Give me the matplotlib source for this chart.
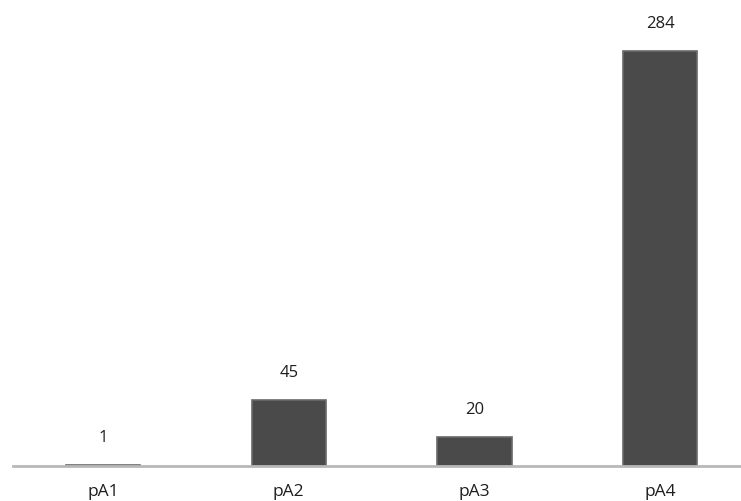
"""
Bar chart of counts per pA group
"""

import matplotlib.pyplot as plt

categories = ["pA1", "pA2", "pA3", "pA4"]
counts = [1, 45, 20, 284]

fig = plt.figure(figsize=(7.41, 5.01), dpi=100)
# axes: left edge at the baseline start, baseline ~466 px from the top
ax = fig.add_axes([13 / 741, (501 - 466) / 501, 1 - 13 / 741, 466 / 501])

x = range(len(categories))
ax.bar(x, counts, width=0.4, color="#4a4a4a", edgecolor="#6a6a6a",
       linewidth=1.2, zorder=2)

for xi, v in zip(x, counts):
    ax.text(xi, v + 13, str(v), ha="center", va="bottom",
            fontsize=12, color="#1e1e1e", family="Open Sans")

ax.set_xlim(-0.485, 3.436)
ax.set_ylim(0, 319)

for side in ("top", "right", "left"):
    ax.spines[side].set_visible(False)
ax.spines["bottom"].set_color("#b8b8b8")
ax.spines["bottom"].set_linewidth(2)
ax.spines["bottom"].set_zorder(3)

ax.set_yticks([])
ax.set_xticks(list(x))
ax.set_xticklabels(categories, fontsize=12.5, color="#1e1e1e", family="Open Sans")
ax.tick_params(axis="x", length=0, pad=13)

fig.savefig("out.png", dpi=100)
